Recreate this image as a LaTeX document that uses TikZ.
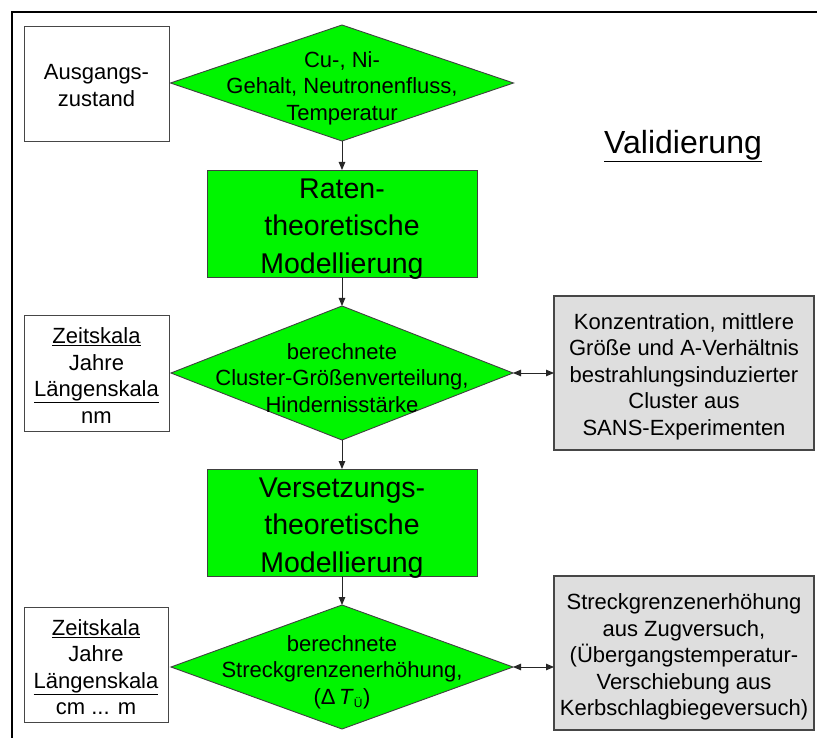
\documentclass[tikz,border=0pt]{standalone}
\usepackage{fontspec}
\setmainfont{Liberation Sans}
\usetikzlibrary{shapes.geometric,arrows.meta,calc}
\definecolor{boxgreen}{RGB}{0,245,0}
\definecolor{boxgray}{RGB}{222,222,222}
\definecolor{edgegray}{RGB}{70,70,70}
\begin{document}
\begin{tikzpicture}[x=1pt,y=-1pt,
 every node/.style={inner sep=0pt, outer sep=0pt, align=center},
 whitebox/.style={rectangle, draw=edgegray, line width=0.9pt, fill=white},
 greenbox/.style={rectangle, draw=black!75, line width=0.9pt, fill=boxgreen},
 graybox/.style={rectangle, draw=edgegray, line width=1.2pt, fill=boxgray},
 dia/.style={diamond, draw=black!75, line width=0.9pt, fill=boxgreen},
 smalltext/.style={font=\fontsize{22}{26.5}\selectfont},
 bigtext/.style={font=\fontsize{28.5}{37.5}\selectfont},
 flow/.style={draw=black!85, line width=0.9pt, -{Triangle[length=8pt,width=6.5pt]}},
 twoway/.style={draw=black!85, line width=0.9pt, {Triangle[length=8pt,width=6.5pt]}-{Triangle[length=8pt,width=6.5pt]}},
]
\useasboundingbox (0,0) rectangle (817,738);
\fill[white] (0,0) rectangle (817,738);
% frame
\draw[line width=2pt] (817,12) -- (12,12) -- (12,738);

% left boxes
\node[whitebox, minimum width=145pt, minimum height=115pt] (a0) at (96.5,83.5) {};
\node[smalltext] (a0t) at (96.5,85.5) {Ausgangs-\\zustand};
\node[whitebox, minimum width=145pt, minimum height=116pt] (z1) at (96.5,373) {};
\node[smalltext] (z1t) at (96.5,375.5) {\underline{Zeitskala}\\Jahre\\\underline{Längenskala}\\nm};
\node[whitebox, minimum width=144pt, minimum height=115pt] (z2) at (96,664.5) {};
\node[smalltext] (z2t) at (96,667) {\underline{Zeitskala}\\Jahre\\\underline{Längenskala}\\cm ... m};

% diamonds
\node[dia, minimum width=343pt, minimum height=116pt] (d1) at (342,83) {};
\node[smalltext] (d1t) at (342,88) {Cu-, Ni-\\Gehalt, Neutronenfluss,\\Temperatur};
\node[dia, minimum width=342pt, minimum height=134pt] (d2) at (342,373) {};
\node[smalltext] (d2t) at (342,378) {berechnete\\Cluster-Größenverteilung,\\Hindernisstärke};
\node[dia, minimum width=342pt, minimum height=124pt] (d3) at (342,667) {};
\node[smalltext] (d3t) at (342,672) {berechnete\\Streckgrenzenerhöhung,\\(Δ\,\textit{T}\textsubscript{\fontsize{12}{12}\selectfont Ü})};

% green boxes
\node[greenbox, minimum width=270pt, minimum height=107pt] (r1) at (342,223.5) {};
\node[bigtext] (r1t) at (342,229) {Raten-\\theoretische\\Modellierung};
\node[greenbox, minimum width=270pt, minimum height=107pt] (r2) at (342,522.5) {};
\node[bigtext] (r2t) at (342,528) {Versetzungs-\\theoretische\\Modellierung};

% gray boxes
\node[graybox, minimum width=260pt, minimum height=154pt] (g1) at (684,373) {};
\node[smalltext] (g1t) at (684,376.5) {Konzentration, mittlere\\Größe und A-Verhältnis\\bestrahlungsinduzierter\\Cluster aus\\SANS-Experimenten};
\node[graybox, minimum width=260pt, minimum height=154pt] (g2) at (684,653) {};
\node[smalltext] (g2t) at (684,657) {Streckgrenzenerhöhung\\aus Zugversuch,\\(Übergangstemperatur-\\Verschiebung aus\\Kerbschlagbiegeversuch)};

% title
\node[font=\fontsize{32}{38}\selectfont] (val) at (683,146) {\underline{Validierung}};

% connectors
\draw[flow] (d1.south) -- (r1.north);
\draw[flow] (r1.south) -- (d2.north);
\draw[flow] (d2.south) -- (r2.north);
\draw[flow] (r2.south) -- (d3.north);
\draw[twoway] (d2.east) -- (d2.east -| g1.west);
\draw[twoway] (d3.east) -- (d3.east -| g2.west);
\end{tikzpicture}
\end{document}
